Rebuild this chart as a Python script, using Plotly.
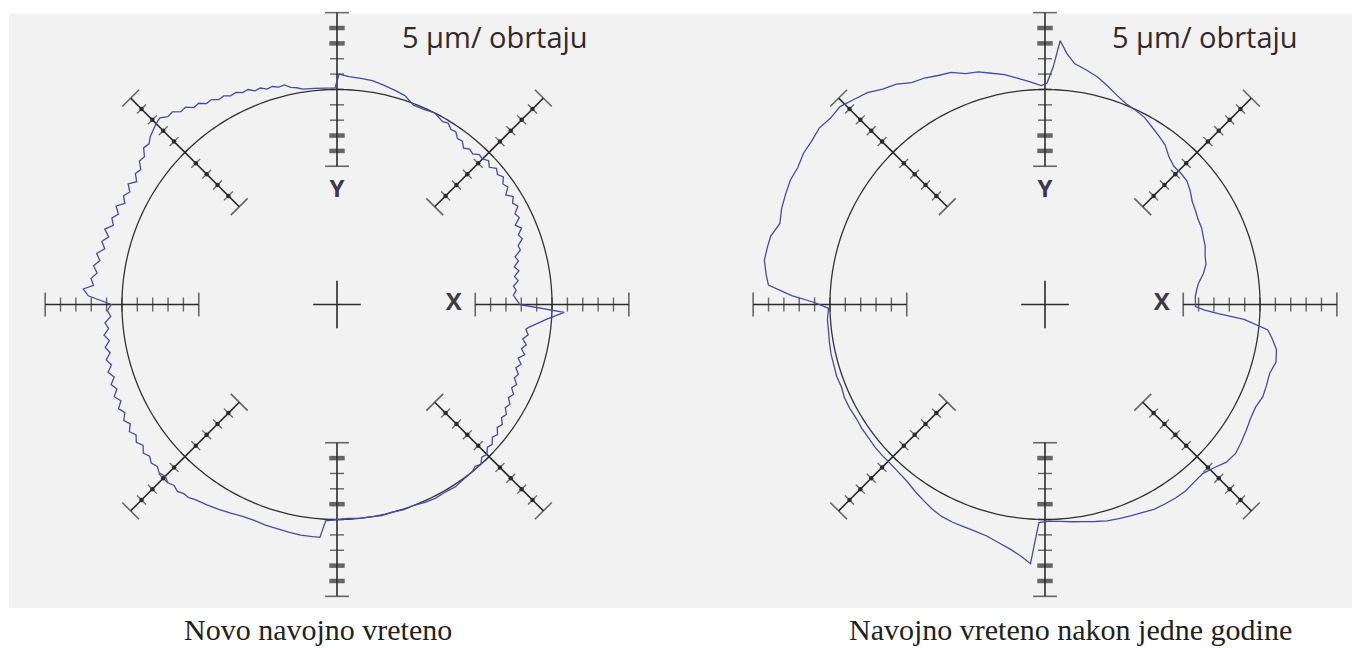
import plotly.graph_objects as go

# roundness traces: angle in degrees (counter-clockwise from X) and deviation from base circle (tick units)
theta_new = [0, 1.5, 3, 4.5, 6, 7.5, 9, 10.5, 12, 13.5, 15, 16.5, 18, 19.5, 21, 22.5, 24, 25.5, 27, 28.5,
             30, 31.5, 33, 34.5, 36, 37.5, 39, 40.5, 42, 43.5, 45, 46.5, 48, 49.5, 51, 52.5, 54, 55.5, 57, 58.5, 60,
             63, 66, 69, 72, 75, 78, 81, 84, 87, 89.5, 90.5, 93, 96,
             99, 100.5, 102, 103.5, 105, 106.5, 108, 109.5, 111, 112.5, 114, 115.5, 117, 118.5, 120, 121.5,
             123, 124.5, 126, 127.5, 129, 130.5, 132, 133.5, 135, 136.5,
             138, 139.5, 141, 142.5, 144, 145.5, 147, 148.5, 150, 151.5, 153, 154.5, 156, 157.5, 159, 160.5,
             162, 163.5, 165, 166.5, 168, 169.5, 171, 172.5, 174, 175.5, 176.5, 178,
             180, 181.5, 183, 184.5, 186, 187.5, 189, 190.5, 192, 193.5, 195, 196.5, 198, 199.5, 201, 202.5,
             204, 205.5, 207, 208.5, 210, 211.5, 213, 214.5, 216, 217.5, 219, 220.5, 222, 223.5, 225, 226.5,
             228, 229.5, 231, 232.5, 234,
             237, 240, 243, 246, 249, 252, 255, 258, 261, 264, 265.8, 267, 270, 273, 276, 279, 282, 285, 288,
             291, 294, 297, 300, 303, 306, 309,
             310.5, 312, 313.5, 315, 316.5, 318, 319.5, 321, 322.5, 324, 325.5, 327, 328.5, 330, 331.5, 333,
             334.5, 336, 337.5, 339, 340.5, 342, 343.5, 345, 346.5, 348, 349.5, 351, 352.5, 353.3, 356, 358, 360]
dev_new = [-2.1, -2.3, -2.5, -2.3, -2.45, -2.1, -2.3, -1.95, -2.2, -1.85, -2.0, -1.55, -1.6, -1.2, -1.35, -1.0,
           -1.3, -0.85, -1.0, -0.6, -0.8, -0.55, -0.9, -0.5, -0.65, -0.35, -0.55, -0.35, -0.65, -0.4, -0.6,
           -0.55, -0.8, -0.7, -0.9, -0.6, -0.65, -0.35, -0.4, -0.15, -0.25,
           0.0, -0.1, -0.1, 0.3, 0.45, 0.6, 0.75, 0.8, 0.85, 1.0, 0.1, 0.1, 0.15,
           0.2, 0.35, 0.45, 0.7, 0.65, 0.8, 0.75, 0.95, 0.9, 1.15, 1.1, 1.3, 1.25, 1.45, 1.4, 1.65,
           1.6, 1.9, 1.85, 2.2, 2.15, 2.5, 2.45, 2.75, 2.65, 2.5,
           2.35, 2.1, 2.2, 1.8, 1.9, 1.5, 1.65, 1.3, 1.7, 1.35, 1.6, 1.3, 1.75, 1.4, 1.7, 1.45,
           1.9, 1.5, 1.85, 1.55, 2.0, 1.7, 2.05, 1.75, 2.1, 1.9, 2.55, 2.2,
           0.7, 0.95, 0.75, 1.15, 0.95, 1.3, 1.0, 1.35, 1.1, 1.45, 1.2, 1.55, 1.25, 1.6, 1.35, 1.7,
           1.4, 1.75, 1.5, 1.8, 1.55, 1.85, 1.6, 1.85, 1.6, 1.9, 1.7, 1.9, 1.75, 1.95, 1.8, 2.0,
           1.85, 2.0, 1.85, 1.85, 1.7,
           1.55, 1.4, 1.25, 1.1, 1.05, 1.1, 1.1, 1.15, 1.2, 1.2, 1.2, 0.1, 0.0, -0.05, 0.0, 0.0, 0.05, 0.0, 0.05,
           0.0, 0.1, 0.15, 0.1, 0.15, 0.05, 0.0,
           -0.15, 0.0, -0.3, -0.2, -0.5, -0.4, -0.7, -0.55, -0.85, -0.7, -1.0, -0.85, -1.15, -1.0, -1.3, -1.1,
           -1.4, -1.2, -1.5, -1.35, -1.65, -1.4, -1.7, -1.35, -1.65, -1.4, -1.7, -1.4, -1.6, -1.4, -0.3, 0.8, -2.1]

theta_old = [0, 3, 6, 8, 11, 14, 17, 20, 23, 26, 29, 32, 35, 38, 41, 44, 47, 50, 53, 56,
             59, 62, 65, 68, 71, 74, 77, 80, 83, 85, 86.7, 88, 89.5, 91, 94, 97, 100, 103, 106, 109,
             112, 115, 118, 121, 124, 127, 130, 133, 136, 139, 142, 145, 148, 151, 154, 157, 160, 163, 166, 168,
             171, 174, 176, 178, 179.5, 181, 184, 187, 190, 193, 196, 199, 202, 205, 208, 211, 214, 217, 220, 223,
             226, 229, 232, 235, 238, 241, 244, 247, 250, 253, 256, 259, 262, 264.5, 266.8, 267.6, 268.4, 271, 274, 277,
             280, 283, 286, 289, 292, 295, 298, 301, 304, 307, 310, 313, 316, 319, 322, 325, 328, 331, 334, 337,
             340, 343, 346, 349, 351.5, 353.5, 355.7, 357, 358, 359.2, 360]
dev_old = [-4.2, -4.2, -4.05, -3.9, -3.5, -3.2, -3.1, -2.9, -2.8, -2.65, -2.6, -2.45, -2.3, -2.0, -1.75, -1.7, -1.7, -1.45, -1.0, -0.75,
           -0.5, -0.2, -0.05, 0.1, 0.4, 0.8, 1.2, 1.5, 1.8, 2.4, 3.2, 1.5, 0.4, 0.25, 0.55, 0.85, 1.2, 1.45, 1.75, 1.9,
           2.3, 2.45, 2.7, 2.85, 3.3, 3.55, 4.0, 4.25, 4.55, 4.5, 4.65, 4.55, 4.55, 4.4, 4.45, 4.35, 4.25, 4.05, 4.4, 4.45,
           4.5, 4.25, 4.05, 2.5, 1.0, 0.1, 0.2, 0.2, 0.25, 0.3, 0.3, 0.35, 0.3, 0.4, 0.4, 0.35, 0.4, 0.4, 0.45, 0.45,
           0.45, 0.5, 0.6, 0.8, 1.0, 1.2, 1.35, 1.4, 1.4, 1.45, 1.55, 1.8, 2.1, 2.45, 2.9, 1.4, 0.2, 0.1, 0.15, 0.25,
           0.35, 0.5, 0.65, 0.75, 0.85, 0.95, 1.1, 1.15, 1.2, 1.2, 1.1, 1.05, 1.3, 1.65, 1.75, 1.6, 1.45, 1.3, 1.25, 1.4,
           1.35, 1.3, 1.5, 1.35, 0.95, 0.6, -1.0, -2.7, -3.6, -4.2, -4.2]

panel_titles = ["Novo navojno vreteno", "Navojno vreteno nakon jedne godine"]
scale_label = "5 µm/ obrtaju"

BASE = 14                      # base circle radius, tick units
axis_angles = [0, 45, 90, 135, 180, 225, 270, 315]
tick_offsets = [-5, -4, -3, -2, -1, 0, 1, 2, 3, 4, 5]
bold_ticks = {90: [-4, -3, 3, 4], 270: [-4, -1, 3, 4]}

RMAX = 19.25
W, H = 1352, 640               # page body adds an 8px margin
PX = 15.36                     # px per tick unit
ink = "#2b2b2b"
blue = "#4848aa"

fig = go.Figure()

centers = [329, 1037]
cy = 296.5
for k, (th, dv) in enumerate(zip([theta_new, theta_old], [dev_new, dev_old])):
    sp = "polar" if k == 0 else "polar2"
    # base circle
    circ_t = list(range(0, 361))
    fig.add_trace(go.Scatterpolar(r=[BASE] * len(circ_t), theta=circ_t, mode="lines",
                                  line=dict(color="#333333", width=1.3), subplot=sp,
                                  hoverinfo="skip", showlegend=False))
    # axis segments with ticks
    for a in axis_angles:
        rr = [BASE + o for o in tick_offsets]
        sizes, widths = [], []
        for o in tick_offsets:
            if abs(o) == 5:
                sizes.append(17); widths.append(1.6)
            elif a in bold_ticks and o in bold_ticks[a]:
                sizes.append(11); widths.append(4.5)
            elif a % 90:
                sizes.append(9); widths.append(1.3)
            else:
                sizes.append(10); widths.append(1.4)
        fig.add_trace(go.Scatterpolar(
            r=rr, theta=[a] * len(rr), mode="lines+markers", subplot=sp,
            line=dict(color=ink, width=1.6),
            marker=dict(symbol="line-ns", size=sizes, angle=-a,
                        line=dict(color=ink, width=widths), color=ink),
            hoverinfo="skip", showlegend=False))
        if a % 90:
            dots = [BASE + o for o in tick_offsets if 0 < abs(o) < 5]
            fig.add_trace(go.Scatterpolar(
                r=dots, theta=[a] * len(dots), mode="markers", subplot=sp,
                marker=dict(symbol="circle", size=4.5, color=ink),
                hoverinfo="skip", showlegend=False))
    # centre cross
    fig.add_trace(go.Scatterpolar(r=[0], theta=[0], mode="markers", subplot=sp,
                                  marker=dict(symbol="cross-thin", size=34,
                                              line=dict(color=ink, width=1.6)),
                                  hoverinfo="skip", showlegend=False))
    # X / Y labels
    fig.add_trace(go.Scatterpolar(r=[7.6, 7.4], theta=[0, 90], mode="text", text=["X", "Y"],
                                  textfont=dict(family="Open Sans", size=24, color="#3a3a48",
                                                weight="bold"),
                                  subplot=sp, hoverinfo="skip", showlegend=False))
    # measured profile
    fig.add_trace(go.Scatterpolar(r=[BASE + d for d in dv], theta=th, mode="lines",
                                  line=dict(color=blue, width=1.3), subplot=sp,
                                  hoverinfo="skip", showlegend=False))


def polar_layout(cx):
    rpx = RMAX * PX
    return dict(
        domain=dict(x=[(cx - rpx) / W, (cx + rpx) / W],
                    y=[(H - cy - rpx) / H, (H - cy + rpx) / H]),
        bgcolor="rgba(0,0,0,0)",
        radialaxis=dict(range=[0, RMAX], visible=False, showgrid=False, showline=False,
                        showticklabels=False, ticks=""),
        angularaxis=dict(visible=False, showgrid=False, showline=False,
                         showticklabels=False, ticks="", rotation=0, direction="counterclockwise"),
    )


annotations = []
for x, t in zip([310, 1062], panel_titles):
    annotations.append(dict(x=x / W, y=(H - 621) / H, xref="paper", yref="paper", text=t,
                            showarrow=False, xanchor="center", yanchor="middle",
                            font=dict(family="Liberation Serif", size=30, color="#231f20")))
for x in [487, 1197]:
    annotations.append(dict(x=x / W, y=(H - 29) / H, xref="paper", yref="paper", text=scale_label,
                            showarrow=False, xanchor="center", yanchor="middle",
                            font=dict(family="Open Sans", size=29, color="#33292a")))

fig.update_layout(
    width=W, height=H,
    margin=dict(l=0, r=0, t=0, b=0),
    paper_bgcolor="white", plot_bgcolor="white",
    polar=polar_layout(centers[0]),
    polar2=polar_layout(centers[1]),
    annotations=annotations,
    shapes=[dict(type="rect", xref="paper", yref="paper", x0=1 / W, x1=1.0,
                 y0=(H - 600) / H, y1=(H - 6) / H, fillcolor="#f2f2f2", line=dict(width=0),
                 layer="below")],
    showlegend=False,
)

fig.write_html("out.html")
